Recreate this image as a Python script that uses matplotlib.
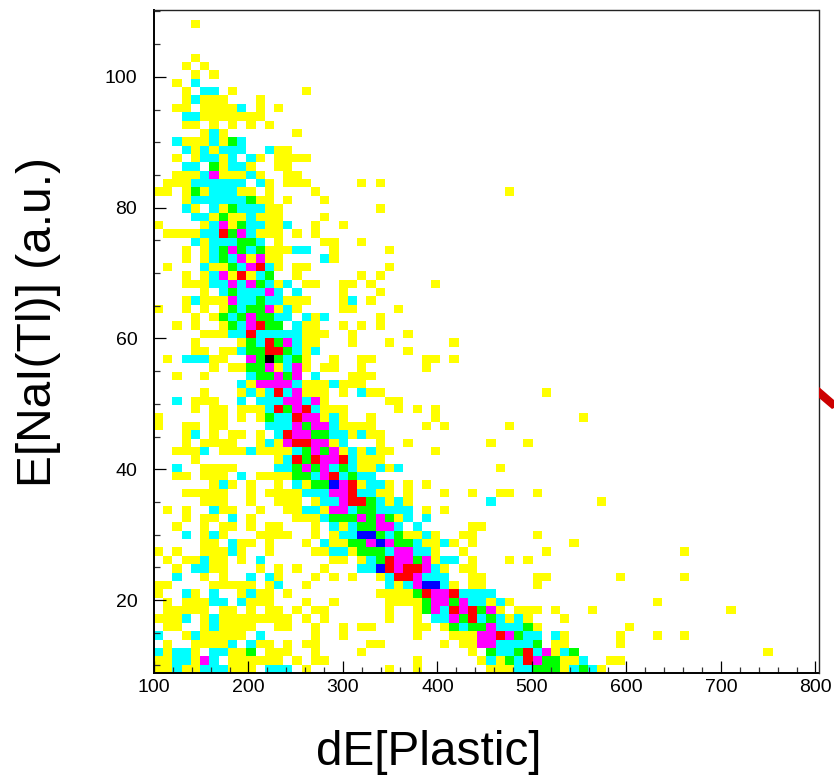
import numpy as np
import matplotlib
matplotlib.use('Agg')
import matplotlib.pyplot as plt
from matplotlib.colors import ListedColormap, BoundaryNorm
from matplotlib.patches import Polygon
from matplotlib.ticker import MultipleLocator

plt.rcParams['font.family'] = ['Liberation Sans', 'DejaVu Sans']

# counts per cell: y=1 c=2 g=3 m=4 r=5 b=6 k=7
# each row is {first column: run of cells}, rows go bottom to top
counts = {'y': 1, 'c': 2, 'g': 3, 'm': 4, 'r': 5, 'b': 6, 'k': 7}
x_bin = 9.77
y_bin = 1.28
x_start = 100
y_start = 8.84
n_cols = 72

rows_low = [
    {0: "yycyycccyyy.ccc.y", 25: "y", 28: "y", 36: "yyyccgggycgcy"},
    {0: "yyccymc.yyyyyy.y.yy", 28: "y", 35: "ycygcrmggyyc..yy"},
    {0: "cyccy.ccyyg.yyy..y", 22: "y", 34: "y", 36: "gccgrcmycg", 66: "y"},
    {0: ".y..yyyyc.cyy.y.yy", 23: "yy", 31: "y", 33: "yymmccccg.yy", 50: "y"},
    {0: "c..ycyyyyy.c.....y", 20: "y", 28: "y", 32: "yyymmrmgcc.cy", 50: "y", 54: "y", 57: "y"},
    {0: ".yy..ycyyyy..yy..y", 20: "y", 22: "yy", 28: "yy", 31: "ygcggmcccgy", 51: "y"},
    {0: "yyyc.ycyyyyyyyy.y", 18: "y", 25: "y", 28: "y", 30: "ccmgrcgcycy", 44: "y"},
    {0: ".yyyyy.yy.y.yy.y.yy", 25: "y", 28: "ygmcrmrgmy.yyy.y", 47: "y", 62: "y"},
    {0: ".y.yyycc.cyyy...y", 19: "y", 25: "yyyygmmgmccycy", 54: "y"},
    {0: "y..cy.c..ycyy.y", 24: "yyyygrmmrcccc"},
    {0: "yy....yyyyy.yc..y", 25: "cycmbbcy.yy", 41: "y"},
    {0: "..c..y.y..c.cy...y", 19: "y", 21: "y", 24: "ycrrmccc", 34: "yy", 41: "yy", 50: "y", 57: "y"},
    {2: "y.ccyy...y.y.y", 18: "y", 22: "ccbrmrrmcy", 33: "yy"},
    {1: "y.yycyy.y.c", 19: "yy", 22: "ycgrmmgmycc", 34: "y", 38: "y", 40: "y"},
    {0: "y.y..yyycy..y", 17: "yyccygggcmmccy", 33: "y", 42: "y", 57: "y"},
    {5: "yy.cyy.y...y", 18: "cyyggmbmggcyycy", 34: "y", 45: "y"},
    {3: "c.ycy...yyyy..y", 19: "yccbbgcgyycy", 33: "yy", 41: "y"},
    {2: "y..y.yy.y.yy...y", 19: "cycggmmc.c", 34: "yy"},
    {3: "y.yy.c.y....yyy", 18: "cgggmgmgyc.c"},
    {1: "y.y..cyy..y..yycc", 18: "ymmcggcccc.y.y"},
]

rows_mid = [
    {5: "yyy..y..yyy.y", 18: "ccmrrgcycy", 36: "c", 48: "y"},
    {3: "yyyyy..y.yyyycc", 18: "cmmrccyy.y", 31: "y", 34: "y", 37: "yy", 41: "y"},
    {6: "ycy.y..y.cyg", 18: "gbmryccy", 27: "y", 29: "y"},
    {2: "yy.yyy.c.yyyyggc", 18: "mrcgcc"},
    {2: "c..yyyy....ccgmg", 18: "mcgcyycyc", 37: "y"},
    {4: "y........ycrgr", 18: "mmrcyyy"},
    {2: "yyyc.yyycyyyycgmg", 18: "gmycycyy", 30: "y"},
    {3: "y.yyyy..ycymrrm", 18: "myc", 24: "y", 27: "y", 36: "y", 40: "y"},
    {3: "yc.y.yy.y.crmmg", 18: "gccycyy"},
    {0: "y..yy.yy....cccmgm", 18: "mcyyyy", 29: "y", 31: "y", 38: "y"},
    {0: "y.....yy.y.ygccrmm", 18: "ycy..y", 30: "y", 46: "y"},
    {4: "y.yy.yyycrgmrc", 18: "yyy", 26: "y", 28: "y", 30: "y"},
    {2: "c.yyy..c.cccmmcm", 18: "y", 25: "yy"},
    {5: "y...ycycrcmyyy", 20: "y", 22: "cyy", 42: "y"},
    {9: "cymmmmcyyycyyy"},
    {2: "y..y....cggmgm.c", 21: "yyy"},
    {6: "y.yyggmycmy", 18: "yy", 22: "y", 29: "y"},
    {1: "y.cccyy..mgkgcgy", 19: "y", 22: "yy", 29: "yy", 32: "y"},
    {4: "yy.yycggrrgcyc", 27: "y"},
    {4: "y....ygcrgmcyy", 21: "y", 25: "y", 32: "y"},
]

rows_high = [
    {5: "yyyccrcccccyyy", 21: "y", 27: "y"},
    {2: "y.y..ygcmrgg.cyy", 20: "y", 22: "y", 24: "y"},
    {4: "y.ygcgmggcc.cyc", 24: "y"},
    {0: "y..y.y.ygcggmycy", 20: "yy", 26: "y"},
    {3: "ycyyymccgccyyy", 20: "yc", 23: "y"},
    {5: "y.cgcccmc.c", 20: "y", 24: "y"},
    {3: "yyyccmcmgcyc.yy", 20: "yy", 23: "y", 30: "y"},
    {3: "y.ycmyrycg..y", 22: "y", 24: "y"},
    {1: "y...cyygcmrcy.yy", 25: "y"},
    {3: "y.ycgcmymyy", 18: "cy"},
    {3: "y.ycgmgcgyyycc", 19: "y", 25: "y"},
    {4: "cycccggc.y", 18: "yy", 22: "y"},
    {1: "yyyyccrgmcyyy.y.y"},
    {0: "y....ycmygccyyc..y", 20: "y"},
    {4: "ccygyycyyy", 18: "y"},
    {3: "cy.cygcccyy", 24: "y"},
    {3: "yccccccgyy.y", 18: "y"},
    {0: "yy.ygycccyy.y....y", 38: "y"},
    {1: "yyycccccc.cy.yyy", 22: "y", 24: "y"},
]

rows_top = [
    {2: "yyycmyyycy", 14: "yy"},
    {3: "cc.gyccy..yy"},
    {2: "y.yccyc.cy.yyyy"},
    {3: "cycyccc..cyy"},
    {2: "cyyycygc"},
    {5: "ycy", 15: "y"},
    {3: "yy.y.y.y.y"},
    {3: "ccyyyyyyy"},
    {2: "yy.yyyyc.y.y"},
    {3: "ycyyy...y"},
    {3: "y.cc.y", 16: "y"},
    {2: "y.c"},
    {4: "y.y"},
    {3: "y.y"},
    {4: "y"},
    {},
    {},
    {},
    {4: "y"},
    {},
]

rows = rows_low + rows_mid + rows_high + rows_top
z = np.zeros((len(rows), n_cols))
for i in range(len(rows)):
    for col, cells in rows[i].items():
        for j in range(len(cells)):
            if cells[j] != '.':
                z[i, col + j] = counts[cells[j]]

x_edges = x_start + x_bin * np.arange(n_cols + 1)
y_edges = y_start + y_bin * np.arange(len(rows) + 1)

W, H = 834, 776
fig = plt.figure(figsize=(W / 100, H / 100), dpi=100)
ax = fig.add_axes([154 / W, 1 - 673 / H, 664.5 / W, 663 / H])

cmap = ListedColormap(['#ffff00', '#00ffff', '#00ff00', '#ff00ff', '#ff0000', '#0000ff', '#000000'])
norm = BoundaryNorm(np.arange(0.5, 8.5), cmap.N)
ax.pcolormesh(x_edges, y_edges, np.ma.masked_equal(z, 0), cmap=cmap, norm=norm,
              antialiased=False, linewidth=0)

ax.set_xlim(100, 100 + 664.5 / 0.945)
ax.set_ylim(y_start, y_start + 663 / 6.54)

ax.xaxis.set_major_locator(MultipleLocator(100))
ax.xaxis.set_minor_locator(MultipleLocator(20))
ax.yaxis.set_major_locator(MultipleLocator(20))
ax.yaxis.set_minor_locator(MultipleLocator(5))
ax.tick_params(which='major', direction='in', length=8.6, width=0.9, labelsize=14, color='black')
ax.tick_params(which='minor', direction='in', length=4.3, width=0.9, color='#333333')
ax.tick_params(axis='x', which='major', pad=4)
ax.tick_params(axis='y', which='major', pad=12)
for s in ax.spines.values():
    s.set_linewidth(1.0)
    s.set_color('#222222')
ax.spines['left'].set_linewidth(1.4)
ax.spines['left'].set_color('black')
ax.spines['bottom'].set_linewidth(1.4)
ax.spines['bottom'].set_color('black')

fig.text(429 / W, 1 - 752.5 / H, 'dE[Plastic]', fontsize=34.4, ha='center', va='center')
fig.text(38.5 / W, 1 - 322 / H, 'E[NaI(Tl)] (a.u.)', fontsize=34.5, rotation=90, ha='center', va='center')

# stray bit of red line at the right edge of the picture
stroke = [(819, 387), (819, 398), (832, 409), (834, 408), (834, 400)]
fig.add_artist(Polygon([(x / W, 1 - y / H) for x, y in stroke], closed=True,
                       transform=fig.transFigure, facecolor='#cc0000', edgecolor='none'))

fig.savefig('out.png', dpi=100)
